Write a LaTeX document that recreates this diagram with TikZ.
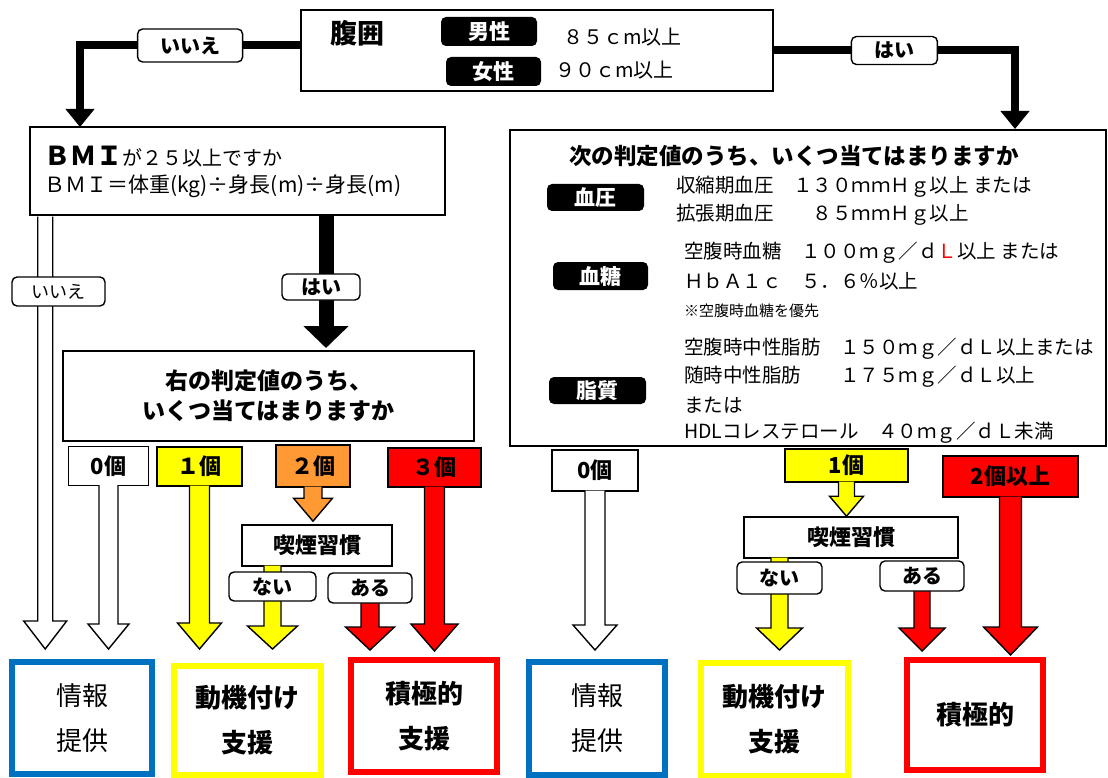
\documentclass[tikz,border=0pt]{standalone}
\usepackage{fontspec}
\setmainfont{Noto Sans CJK JP}
\usepackage{tikz}
\usetikzlibrary{arrows.meta,calc}
\definecolor{hkYellow}{HTML}{FFFF00}
\definecolor{hkOrange}{HTML}{FF9933}
\definecolor{hkRed}{HTML}{FF0000}
\definecolor{hkBlue}{HTML}{0070C0}
\newcommand{\setSize}[1]{\fontsize{#1}{#1}\selectfont}
% block arrow: fill, start, tip row, shaft half, head half, head length
\newcommand{\drawBlockArrow}[6]{%
  \fill[#1] let \p1=#2, \p2=#3 in
    (\x1-#4pt,\y1+1.2pt) -- (\x1-#4pt,\y2+#6pt) -- (\x1-#5pt,\y2+#6pt) -- (\x1,\y2)
    -- (\x1+#5pt,\y2+#6pt) -- (\x1+#4pt,\y2+#6pt) -- (\x1+#4pt,\y1+1.2pt) -- cycle;
  \draw[line width=1.4pt] let \p1=#2, \p2=#3 in
    (\x1-#4pt,\y1+1.2pt) -- (\x1-#4pt,\y2+#6pt) -- (\x1-#5pt,\y2+#6pt) -- (\x1,\y2)
    -- (\x1+#5pt,\y2+#6pt) -- (\x1+#4pt,\y2+#6pt) -- (\x1+#4pt,\y1+1.2pt)}
\tikzset{
  box/.style={draw, line width=1.6pt, fill=white, inner sep=0pt},
  tag/.style={fill=black, text=white, rounded corners=5pt, inner sep=0pt, font=\bfseries\setSize{21}},
  answer/.style={draw, line width=1.4pt, fill=white, rounded corners=5pt, inner sep=0pt, font=\bfseries\setSize{20}},
  count/.style={box, font=\bfseries\setSize{22}},
  result/.style={draw, line width=6pt, inner sep=0pt, align=center, font=\fontsize{26}{45}\selectfont},
  resultBold/.style={result, font=\bfseries\fontsize{26}{45}\selectfont},
  thickArrow/.style={line width=8pt, line join=miter, -{Triangle[width=28pt,length=18pt]}},
  body/.style={anchor=west, inner sep=0pt, font=\setSize{19.5}},
}

\begin{document}
\begin{tikzpicture}[x=1pt, y=-1pt]
    \useasboundingbox (0,0) rectangle (1108,778);
    \coordinate (tipRow) at (0,649);

    % waist
    \node[box, minimum width=472pt, minimum height=81pt] (waist) at (537,50.5) {};
    \node[font=\bfseries\setSize{27}] (waistTitle) at (357,33) {腹囲};
    \node[tag, minimum width=96pt, minimum height=29pt] (male) at (489,31.5) {男性};
    \node[tag, minimum width=95pt, minimum height=29pt] (female) at (493.5,71.5) {女性};
    \node[body, font=\setSize{20}] (maleVal) at (563,37) {８５ｃm以上};
    \node[body, font=\setSize{20}] (femaleVal) at (555,70) {９０ｃm以上};

    % bmi
    \node[box, minimum width=415pt, minimum height=88pt] (bmi) at (237.5,171) {};
    \node[body, font=\setSize{20}] (bmiQ) at (44,157) {{\bfseries\setSize{26}ＢＭＩ}が２５以上ですか};
    \node[body, font=\setSize{21}] (bmiF) at (44,186) {ＢＭＩ＝体重(kg)÷身長(m)÷身長(m)};

    % criteria
    \node[box, minimum width=596pt, minimum height=316pt] (crit) at (808,288) {};
    \node[font=\bfseries\setSize{22.5}] (critTitle) at (794,156) {次の判定値のうち、いくつ当てはまりますか};
    \node[tag, minimum width=97pt, minimum height=27pt] (pressure) at (595.5,197.5) {血圧};
    \node[body] (pressA) at (676,187) {収縮期血圧　１３０ｍｍＨｇ以上 または};
    \node[body] (pressB) at (676,215) {拡張期血圧　　８５ｍｍＨｇ以上};
    \node[tag, minimum width=95pt, minimum height=28pt] (sugar) at (600.5,276) {血糖};
    \node[body] (sugarA) at (684,253) {空腹時血糖　１００ｍｇ／ｄ{\color{hkRed}Ｌ}以上 または};
    \node[body] (sugarB) at (684,281) {ＨｂＡ１ｃ　５．６％以上};
    \node[body, font=\setSize{15}] (sugarC) at (684,311) {※空腹時血糖を優先};
    \node[tag, minimum width=97pt, minimum height=27pt] (lipid) at (597.5,390.5) {脂質};
    \node[body] (lipidA) at (684,349) {空腹時中性脂肪　１５０ｍｇ／ｄＬ以上または};
    \node[body] (lipidB) at (684,377) {随時中性脂肪　　１７５ｍｇ／ｄＬ以上};
    \node[body] (lipidC) at (684,405) {または};
    \node[body] (lipidD) at (684,433) {HDLコレステロール　４０ｍｇ／ｄＬ未満};

    % from waist
    \coordinate (noTipTop) at (80,127);
    \coordinate (yesTipTop) at (1015,129);
    \draw[thickArrow] ([yshift=5pt]waist.west) -| (noTipTop)
        node[answer, pos=0.25, minimum width=105pt, minimum height=33pt] (noTop) {いいえ};
    \draw[thickArrow] (waist.east) -| (yesTipTop)
        node[answer, pos=0.25, minimum width=86pt, minimum height=28pt] (yesTop) {はい};

    % from bmi
    \coordinate (yesTipMid) at (326,348);
    \draw[line width=15pt, -{Triangle[width=44pt,length=22pt]}] (bmi.south -| yesTipMid) -- (yesTipMid);
    \node[answer, minimum width=78pt, minimum height=26pt] (yesMid) at (321,287) {はい};
    \drawBlockArrow{white}{($(bmi.south west)+(16,2)$)}{(tipRow)}{7.5}{21.5}{28};
    \node[answer, font=\setSize{18}, minimum width=93pt, minimum height=29pt] (noMid) at (58.5,291.5) {いいえ};

    \node[box, minimum width=411pt, minimum height=90pt, align=center,
        font=\bfseries\fontsize{23}{30}\selectfont] (judgeL) at (268.5,396) {右の判定値のうち、\\いくつ当てはまりますか};

    % counts left
    \node[count, minimum width=80pt, minimum height=39pt] (zeroL) at (108.5,466) {0個};
    \node[count, fill=hkYellow, minimum width=85pt, minimum height=39pt] (oneL) at (199.5,466.5) {１個};
    \node[count, fill=hkOrange, minimum width=74pt, minimum height=42pt] (twoL) at (313,466) {２個};
    \node[count, fill=hkRed, minimum width=93pt, minimum height=39pt] (threeL) at (434.5,467.5) {３個};
    \node[box, font=\bfseries\setSize{22}, minimum width=150pt, minimum height=41pt] (smokeL) at (317,545.5) {喫煙習慣};
    \drawBlockArrow{white}{(zeroL.south)}{(tipRow)}{9.5}{20.5}{25};
    \drawBlockArrow{hkYellow}{(oneL.south)}{(tipRow)}{10}{22}{26};
    \drawBlockArrow{hkOrange}{(twoL.south)}{($(smokeL.north)+(0,-3)$)}{9}{19.5}{23};
    \drawBlockArrow{hkRed}{(threeL.south)}{($(tipRow)+(0,2)$)}{10}{23.5}{27};
    \coordinate (naiLpos) at (272.5,586.5);
    \coordinate (aruLpos) at (370,588);
    \drawBlockArrow{hkYellow}{(smokeL.south -| naiLpos)}{(tipRow)}{8.5}{25}{23};
    \drawBlockArrow{hkRed}{(aruLpos)}{($(tipRow)+(0,1)$)}{9}{24.5}{23};
    \node[answer, minimum width=87pt, minimum height=29pt] (naiL) at (naiLpos) {ない};
    \node[answer, minimum width=84pt, minimum height=30pt] (aruL) at (aruLpos) {ある};

    % counts right
    \node[count, minimum width=86pt, minimum height=41pt] (zeroR) at (595,470.5) {0個};
    \node[count, fill=hkYellow, minimum width=123pt, minimum height=33pt] (oneR) at (846.5,465.5) {1個};
    \node[count, fill=hkRed, minimum width=135pt, minimum height=41pt] (twoR) at (1010.5,476.5) {2個以上};
    \node[box, font=\bfseries\setSize{22}, minimum width=214pt, minimum height=41pt] (smokeR) at (851,537.5) {喫煙習慣};
    \drawBlockArrow{white}{(zeroR.south)}{($(tipRow)+(0,1)$)}{10}{22}{25};
    \drawBlockArrow{hkYellow}{(oneR.south)}{(smokeR.north)}{8}{17}{20};
    \drawBlockArrow{hkRed}{(twoR.south)}{($(tipRow)+(0,6)$)}{11}{27}{28};
    \coordinate (naiRpos) at (779.5,578);
    \coordinate (aruRpos) at (922,576);
    \drawBlockArrow{hkYellow}{(smokeR.south -| naiRpos)}{($(tipRow)+(0,1)$)}{8.5}{23}{22};
    \drawBlockArrow{hkRed}{(aruRpos)}{($(tipRow)+(0,2)$)}{8}{23}{23};
    \node[answer, minimum width=85pt, minimum height=32pt] (naiR) at (naiRpos) {ない};
    \node[answer, minimum width=84pt, minimum height=30pt] (aruR) at (aruRpos) {ある};

    % results
    \node[result, draw=hkBlue, minimum width=140pt, minimum height=112pt] (infoL) at (82,718) {情報\\提供};
    \node[resultBold, draw=hkYellow, minimum width=147pt, minimum height=109pt] (motL) at (247.5,720.5) {動機付け\\支援};
    \node[resultBold, draw=hkRed, minimum width=146pt, minimum height=112pt] (actL) at (424,716) {積極的\\支援};
    \node[result, draw=hkBlue, minimum width=136pt, minimum height=113pt] (infoR) at (597,718.5) {情報\\提供};
    \node[resultBold, draw=hkYellow, minimum width=147pt, minimum height=113pt] (motR) at (774.5,719.5) {動機付け\\支援};
    \node[resultBold, draw=hkRed, minimum width=136pt, minimum height=110pt] (actR) at (975,715) {積極的};
\end{tikzpicture}
\end{document}
